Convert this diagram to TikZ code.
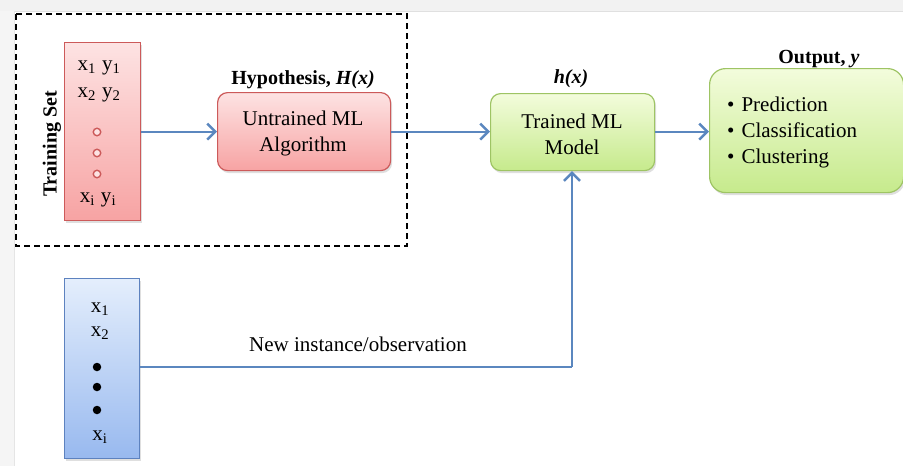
\documentclass[tikz,border=0pt]{standalone}
\usepackage{fontspec}
\setmainfont{Liberation Serif}
\usetikzlibrary{arrows.meta,shadows}

\definecolor{flow}{HTML}{5B87BF}
\definecolor{redtop}{HTML}{FDE3E3}
\definecolor{redbot}{HTML}{F7A3A3}
\definecolor{redline}{HTML}{CC5A5A}
\definecolor{greentop}{HTML}{F3FCDC}
\definecolor{greenbot}{HTML}{C6EA8C}
\definecolor{greenline}{HTML}{9EC464}
\definecolor{bluetop}{HTML}{E4EEFC}
\definecolor{bluebot}{HTML}{98B9EF}
\definecolor{blueline}{HTML}{5D82BF}

\tikzset{
  box/.style={draw, line width=1.2pt, inner sep=0pt, anchor=north west,
    drop shadow={opacity=0.25, shadow xshift=1.5pt, shadow yshift=-2.5pt}},
  redbox/.style={box, draw=redline, top color=redtop, bottom color=redbot},
  greenbox/.style={box, draw=greenline, top color=greentop, bottom color=greenbot},
  bluebox/.style={box, draw=blueline, top color=bluetop, bottom color=bluebot},
  txt/.style={font=\fontsize{21}{26}\selectfont, inner sep=0pt, align=center},
  head/.style={font=\fontsize{20}{24}\selectfont\bfseries, inner sep=0pt},
  flowline/.style={draw=flow, line width=2pt},
  flowarrow/.style={flowline, -{Straight Barb[length=8pt, width=16pt, line width=2.5pt]}},
  ring/.style={circle, draw=redline, fill=redtop, line width=1.4pt, inner sep=0pt, minimum size=7.5pt},
  blob/.style={circle, fill=black, inner sep=0pt, minimum size=8.5pt},
}

\begin{document}
\begin{tikzpicture}[x=1pt, y=-1pt]
  \useasboundingbox (0,0) rectangle (903,466);
  \fill[white] (0,0) rectangle (903,466);

  % window frame strips
  \fill[black!5] (0,0) rectangle (903,11);
  \draw[black!12, line width=1pt] (14,11.5) -- (903,11.5);
  \fill[black!4] (0,11) rectangle (14,466);
  \draw[black!10, line width=1pt] (14.5,11) -- (14.5,466);

  % training stage frame
  \draw[black, line width=1.6pt, dash pattern=on 6pt off 4pt] (16,14) rectangle (407,246);

  % training set
  \node[redbox, minimum width=76pt, minimum height=178pt] (ts) at (64,42) {};
  \node[head, rotate=90] (tslabel) at (52,144) {Training Set};
  \node[txt] (ts1) at (99,68) {x\textsubscript{1}\hspace{6pt}y\textsubscript{1}};
  \node[txt] (ts2) at (99,95) {x\textsubscript{2}\hspace{6pt}y\textsubscript{2}};
  \node[ring] (r1) at (97,132) {};
  \node[ring] (r2) at (97,153) {};
  \node[ring] (r3) at (97,174) {};
  \node[txt] (tsi) at (98,200) {x\textsubscript{i}\hspace{6pt}y\textsubscript{i}};

  % untrained algorithm
  \node[redbox, rounded corners=10pt, minimum width=173pt, minimum height=78pt] (ua) at (217,92) {};
  \node[txt] (uatext) at (303,133) {Untrained ML\\Algorithm};
  \node[head] (hyp) at (303,80) {Hypothesis, \textit{H(x)}};

  % trained model
  \node[greenbox, rounded corners=10pt, minimum width=164pt, minimum height=77pt] (tm) at (490,93) {};
  \node[txt] (tmtext) at (572,134) {Trained ML\\Model};
  \node[head] (hx) at (571,79) {\textit{h(x)}};

  % output
  \node[greenbox, rounded corners=16pt, minimum width=194pt, minimum height=124pt] (out) at (709,68) {};
  \node[head] (outlabel) at (819,59) {Output, \textit{y}};
  \node[txt, anchor=west, align=left] (outlist) at (727,132)
    {\textbullet\hspace{7pt}Prediction\\\textbullet\hspace{7pt}Classification\\\textbullet\hspace{7pt}Clustering};

  % new instance
  \node[bluebox, minimum width=75pt, minimum height=180pt] (ni) at (64,278) {};
  \node[txt] (ni1) at (100,309) {x\textsubscript{1}};
  \node[txt] (ni2) at (100,333) {x\textsubscript{2}};
  \node[blob] (b1) at (97,367) {};
  \node[blob] (b2) at (97,387) {};
  \node[blob] (b3) at (97,410) {};
  \node[txt] (nii) at (100,437) {x\textsubscript{i}};
  \node[txt] (nilabel) at (358,344) {New instance/observation};

  % flow connectors
  \coordinate (turn) at (572,367);
  \draw[flowarrow] (ts.east |- ua.west) -- (ua.west);
  \draw[flowarrow] (ua.east) -- (tm.west |- ua.east);
  \draw[flowarrow] (tm.east |- ua.east) -- (out.west |- ua.east);
  \draw[flowline] (ni.east |- turn) -- (turn);
  \draw[flowarrow] (turn) -- (tm.south -| turn);
\end{tikzpicture}
\end{document}
